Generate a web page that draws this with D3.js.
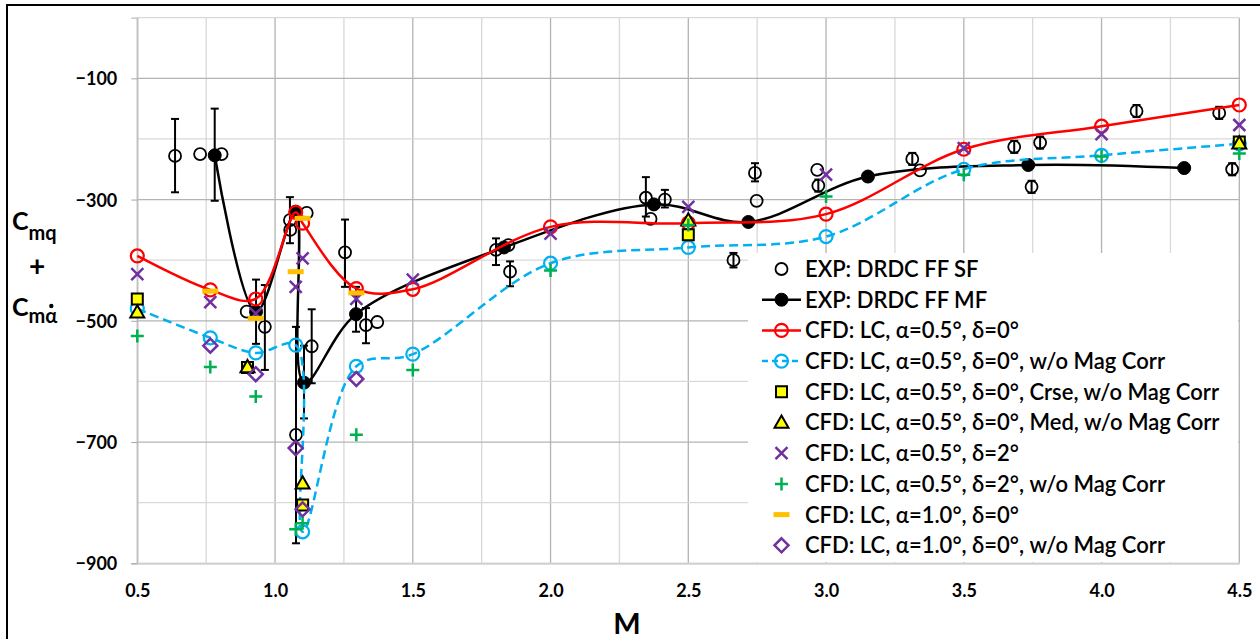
<!DOCTYPE html>
<html>
<head>
<meta charset="utf-8">
<script src="https://cdn.jsdelivr.net/npm/d3@7"></script>
<style>
  body { margin: 0; background: #fff; }
  svg { display: block; }
  text { font-family: Lato, "Open Sans", "Noto Sans", sans-serif; fill: #000; }
</style>
</head>
<body>
<svg id="chart" width="1260" height="639"></svg>
<script>
// ---- CFD runs (LC = level-flight configuration) ----
const cfdMach        = [0.5, 0.765, 0.93, 1.075, 1.1, 1.295, 1.5, 2.0, 2.5, 3.0, 3.5, 4.0, 4.5];
const cfdA05D0       = [-393, -449, -464, -321, -339, -447, -448, -345, -339, -324, -217, -179, -144];
const cfdA05D0NoMag  = [-480, -528, -553, -540, -848, -575, -555, -405, -379, -361, -250, -227, -208];
const cfdA05D2       = [-423, -469, -488, -444, -397, -464, -432, -356, -312, -259, -215, -192, -177];
const cfdA05D2NoMag  = [-525, -576, -625, -844, -834, -688, -581, -417, -342, -295, -259, -229, -224];

// grid-refinement runs
const refineMach     = [0.5, 0.9, 1.1, 2.5, 4.5];
const cfdCoarseNoMag = [-464, -577, -804, -358, -205];
const cfdMediumNoMag = [-486, -576, -768, -334, -207];

// alpha = 1.0 deg runs
const a10Mach        = [0.765, 0.93, 1.075, 1.1, 1.295];
const cfdA10D0       = [-451, -496, -419, -331, -454];
const cfdA10D0NoMag  = [-541, -588, -710, -811, -596];

// ---- free-flight experiments ----
const sfMach   = [0.637, 0.728, 0.806, 0.897, 0.963, 1.054, 1.055, 1.076, 1.115, 1.133, 1.254, 1.330, 1.371,
                  1.802, 1.847, 1.853, 2.346, 2.363, 2.415, 2.664, 2.742, 2.748, 2.968, 2.972,
                  3.313, 3.341, 3.683, 3.746, 3.777, 4.127, 4.427, 4.474];
const sfValue  = [-228, -225, -225, -485, -510, -334, -350, -688, -322, -542, -387, -507, -502,
                  -383, -375, -419, -297, -332, -300, -400, -256, -302, -251, -277,
                  -233, -252, -213, -279, -206, -154, -157, -250];
const sfErrLow = [-288, null, null, null, -581, -372, null, -867, null, -603, -444, -537, null,
                  -408, null, -443, -328, null, -313, -412, -270, null, null, -287,
                  -243, null, -223, -289, -216, -164, -167, -260];
const sfErrHigh = [-167, null, null, null, -441, -296, null, -510, null, -481, -333, -479, null,
                  -364, null, -402, -263, null, -284, -388, -240, null, null, -267,
                  -223, null, -203, -269, -196, -144, -147, -240];

const mfMach    = [0.781, 0.931, 1.075, 1.105, 1.294, 1.831, 2.375, 2.718, 3.152, 3.734, 4.300];
const mfValue   = [-227, -485, -320, -602, -489, -379, -308, -337, -262, -243, -248];
const mfErrLow  = [-302, -538, null, -661, -518, null, null, null, null, null, null];
const mfErrHigh = [-150, -432, null, -541, -444, null, null, null, null, null, null];

// ---- axes ----
const xTicks = [0.5, 1.0, 1.5, 2.0, 2.5, 3.0, 3.5, 4.0, 4.5];
const yTicks = [-900, -700, -500, -300, -100];

const legendLabels = [
  "EXP: DRDC FF SF",
  "EXP: DRDC FF MF",
  "CFD: LC, α=0.5°, δ=0°",
  "CFD: LC, α=0.5°, δ=0°, w/o Mag Corr",
  "CFD: LC, α=0.5°, δ=0°, Crse, w/o Mag Corr",
  "CFD: LC, α=0.5°, δ=0°, Med, w/o Mag Corr",
  "CFD: LC, α=0.5°, δ=2°",
  "CFD: LC, α=0.5°, δ=2°, w/o Mag Corr",
  "CFD: LC, α=1.0°, δ=0°",
  "CFD: LC, α=1.0°, δ=0°, w/o Mag Corr"
];

const zip = (xs, ys) => xs.map((x, i) => ({ x, y: ys[i] }));

const svg = d3.select("#chart");
const W = 1260, H = 639;
const plot = { left: 137.3, right: 1239.3, top: 17.7, bottom: 563.3 };

const x = d3.scaleLinear().domain([0.5, 4.5]).range([plot.left, plot.right]);
const y = d3.scaleLinear().domain([-900, 0]).range([plot.bottom, plot.top]);

// outer chart frame
svg.append("rect").attr("x", 7).attr("y", 5).attr("width", W).attr("height", H)
  .attr("fill", "#fff").attr("stroke", "#000").attr("stroke-width", 2);

// grid: minor lines every 0.25 / 100, major every 0.5 / 200
const grid = svg.append("g");
d3.range(0.5, 4.5001, 0.25).forEach(v => {
  const major = Math.abs((v - 0.5) / 0.5 - Math.round((v - 0.5) / 0.5)) < 1e-6;
  grid.append("line").attr("x1", x(v)).attr("x2", x(v)).attr("y1", plot.top).attr("y2", plot.bottom)
    .attr("stroke", major ? "#b3b3b3" : "#d9d9d9").attr("stroke-width", 1.3);
});
d3.range(-900, 0.001, 100).forEach(v => {
  const major = ((v + 900) / 200) % 1 === 0 && v !== 0 && v !== -900;
  grid.append("line").attr("x1", plot.left).attr("x2", plot.right).attr("y1", y(v)).attr("y2", y(v))
    .attr("stroke", major ? "#b3b3b3" : "#d9d9d9").attr("stroke-width", 1.3);
});

// y axis ticks and labels
const yAxis = d3.axisLeft(y).tickValues(yTicks).tickSize(6).tickPadding(14).tickFormat(d3.format("d"));
const gy = svg.append("g").attr("transform", `translate(${plot.left},0)`).call(yAxis);
gy.select(".domain").attr("stroke", "#bfbfbf").attr("stroke-width", 1.3);
gy.selectAll(".tick line").attr("stroke", "#a6a6a6");
gy.selectAll(".tick text").attr("font-size", 18).attr("font-weight", 700)
  .attr("font-family", "Lato, 'Open Sans', sans-serif").attr("fill", "#000").attr("dy", "0.36em");

// x axis labels
const xAxis = d3.axisBottom(x).tickValues(xTicks).tickSize(0).tickPadding(21).tickFormat(d3.format(".1f"));
const gx = svg.append("g").attr("transform", `translate(0,${plot.bottom})`).call(xAxis);
gx.select(".domain").attr("stroke", "#d0d0d0").attr("stroke-width", 2);
gx.selectAll(".tick text").attr("font-size", 18).attr("font-weight", 700)
  .attr("font-family", "Lato, 'Open Sans', sans-serif").attr("fill", "#000");

// axis titles
svg.append("text").attr("x", 627).attr("y", 634).attr("text-anchor", "middle")
  .attr("font-size", 29).attr("font-weight", 700).text("M");

const yt = svg.append("g").attr("font-weight", 700);
const t1 = yt.append("text").attr("x", 12).attr("y", 230);
t1.append("tspan").attr("font-size", 25).text("C");
t1.append("tspan").attr("font-size", 20).attr("dy", 10).text("mq");
yt.append("text").attr("x", 37).attr("y", 276).attr("text-anchor", "middle").attr("font-size", 28).text("+");
const t2baseline = 316, t2sub = 7;
const t2 = yt.append("text").attr("x", 12).attr("y", t2baseline);
t2.append("tspan").attr("font-size", 25).text("C");
t2.append("tspan").attr("font-size", 20).attr("dy", t2sub).text("mα");
// dot over alpha (time derivative)
const aBox = t2.node().getExtentOfChar(2);
yt.append("circle").attr("cx", aBox.x + aBox.width / 2).attr("cy", t2baseline + t2sub - 17)
  .attr("r", 2.2).attr("fill", "#000");

// ---- marker shapes ----
const shapes = {
  x: h => `M${-h},${-h}L${h},${h}M${-h},${h}L${h},${-h}`,
  plus: h => `M${-h},0L${h},0M0,${-h}L0,${h}`,
  diamond: h => `M0,${-h}L${h},0L0,${h}L${-h},0Z`,
  triangle: h => `M0,${-h}L${h},${h * 0.75}L${-h},${h * 0.75}Z`,
  square: h => `M${-h},${-h}H${h}V${h}H${-h}Z`,
  dash: h => `M${-h},0H${h}`,
  circle: h => `M${h},0A${h},${h} 0 1,1 ${-h},0A${h},${h} 0 1,1 ${h},0Z`
};

const series = [
  { name: legendLabels[0], data: zip(sfMach, sfValue), line: null, shape: "circle", h: 6, fill: "none", stroke: "#000", sw: 1.8 },
  { name: legendLabels[1], data: zip(mfMach, mfValue), line: { color: "#000", width: 2.5 }, shape: "circle", h: 6.5, fill: "#000", stroke: "#000", sw: 1 },
  { name: legendLabels[2], data: zip(cfdMach, cfdA05D0), line: { color: "#ff0000", width: 2.5 }, shape: "circle", h: 6.5, fill: "none", stroke: "#ff0000", sw: 2.2 },
  { name: legendLabels[3], data: zip(cfdMach, cfdA05D0NoMag), line: { color: "#00b0f0", width: 2.5, dash: "9,5" }, shape: "circle", h: 6.5, fill: "none", stroke: "#00b0f0", sw: 2.2 },
  { name: legendLabels[4], data: zip(refineMach, cfdCoarseNoMag), line: null, shape: "square", h: 5.5, fill: "#ffff00", stroke: "#000", sw: 2 },
  { name: legendLabels[5], data: zip(refineMach, cfdMediumNoMag), line: null, shape: "triangle", h: 7, fill: "#ffff00", stroke: "#000", sw: 2 },
  { name: legendLabels[6], data: zip(cfdMach, cfdA05D2), line: null, shape: "x", h: 6, fill: "none", stroke: "#7030a0", sw: 2.5 },
  { name: legendLabels[7], data: zip(cfdMach, cfdA05D2NoMag), line: null, shape: "plus", h: 6.5, fill: "none", stroke: "#00b050", sw: 2.5 },
  { name: legendLabels[8], data: zip(a10Mach, cfdA10D0), line: null, shape: "dash", h: 8, fill: "none", stroke: "#ffc000", sw: 5 },
  { name: legendLabels[9], data: zip(a10Mach, cfdA10D0NoMag), line: null, shape: "diamond", h: 7, fill: "none", stroke: "#7030a0", sw: 2.5 }
];

// ---- error bars (drawn beneath the markers) ----
const errGroup = svg.append("g").attr("stroke", "#000").attr("stroke-width", 2);
function errorBars(mach, lo, hi) {
  mach.forEach((m, i) => {
    if (lo[i] == null) return;
    const cx = x(m);
    errGroup.append("line").attr("x1", cx).attr("x2", cx).attr("y1", y(lo[i])).attr("y2", y(hi[i]));
    [lo[i], hi[i]].forEach(v => errGroup.append("line")
      .attr("x1", cx - 4).attr("x2", cx + 4).attr("y1", y(v)).attr("y2", y(v)));
  });
}
errorBars(sfMach, sfErrLow, sfErrHigh);
errorBars(mfMach, mfErrLow, mfErrHigh);

// ---- series: lines then markers, in series order ----
const lineGen = d3.line().x(d => x(d.x)).y(d => y(d.y)).curve(d3.curveCatmullRom.alpha(0.5));
series.forEach(s => {
  const g = svg.append("g");
  if (s.line) {
    g.append("path").attr("d", lineGen(s.data)).attr("fill", "none")
      .attr("stroke", s.line.color).attr("stroke-width", s.line.width)
      .attr("stroke-dasharray", s.line.dash || null).attr("stroke-linejoin", "round");
  }
  g.selectAll("path.mk").data(s.data).join("path").attr("class", "mk")
    .attr("transform", d => `translate(${x(d.x)},${y(d.y)})`)
    .attr("d", shapes[s.shape](s.h))
    .attr("fill", s.fill).attr("stroke", s.stroke).attr("stroke-width", s.sw);
});

// ---- legend ----
const lg = svg.append("g");
lg.append("rect").attr("x", 748).attr("y", 253).attr("width", 490).attr("height", 309).attr("fill", "#fff");
const rowY = i => 269 + i * 30.7;
series.forEach((s, i) => {
  const cy = rowY(i);
  if (s.line) {
    lg.append("line").attr("x1", 762).attr("x2", 801).attr("y1", cy).attr("y2", cy)
      .attr("stroke", s.line.color).attr("stroke-width", s.line.width)
      .attr("stroke-dasharray", s.line.dash ? "6,4" : null);
  }
  lg.append("path").attr("transform", `translate(781.5,${cy})`).attr("d", shapes[s.shape](s.h))
    .attr("fill", s.fill).attr("stroke", s.stroke).attr("stroke-width", s.sw);
  lg.append("text").attr("x", 805).attr("y", cy).attr("dy", "0.36em")
    .attr("font-size", 22).attr("font-weight", 600).text(s.name);
});
</script>
</body>
</html>
